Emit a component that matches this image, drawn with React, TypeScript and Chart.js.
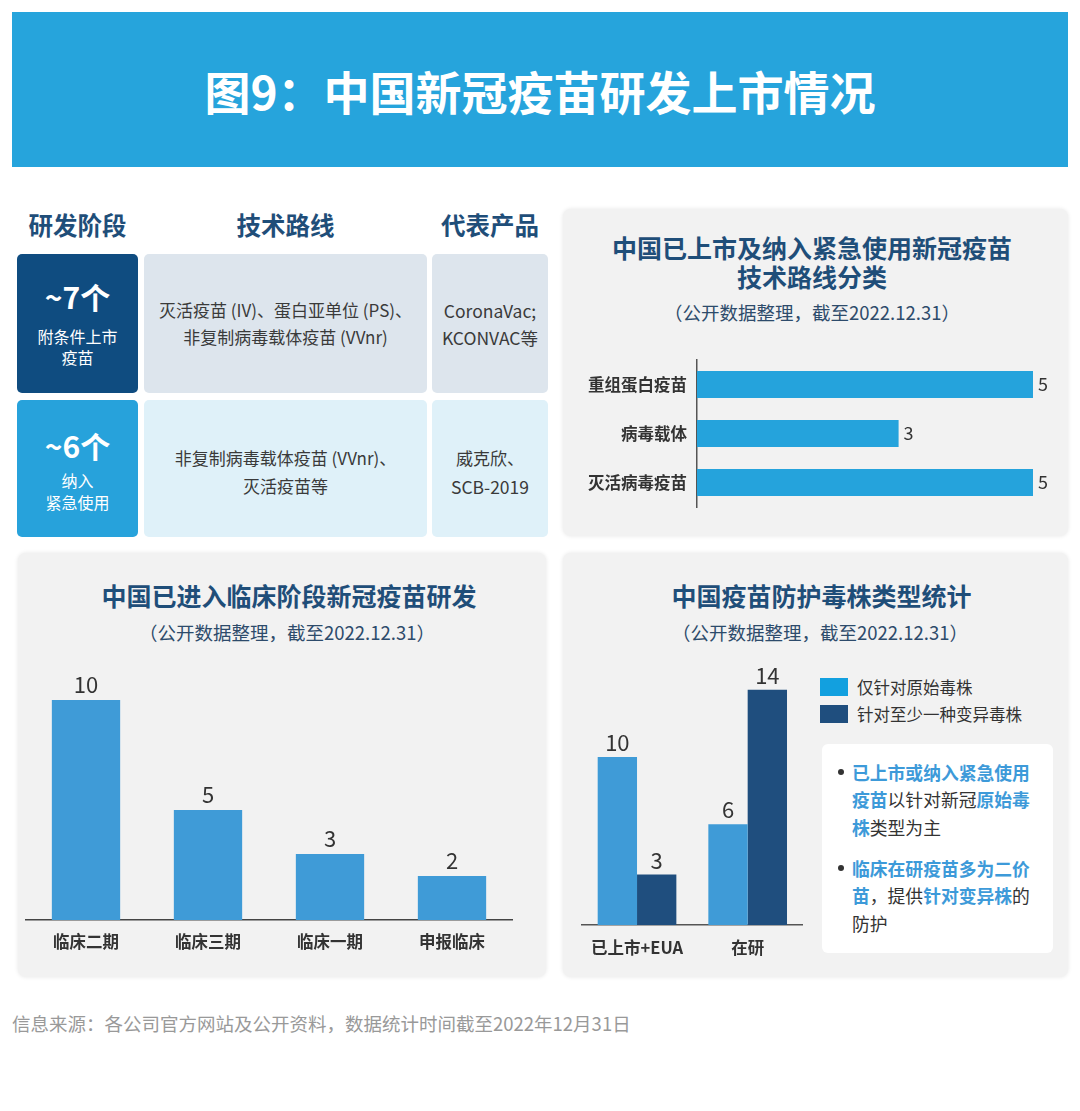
import React, { useEffect, useRef } from "react";
import { Chart, registerables } from "chart.js";

Chart.register(...registerables);

// ---------------- DATA ----------------
const techCategories = ["重组蛋白疫苗", "病毒载体", "灭活病毒疫苗"];
const techValues = [5, 3, 5];

const clinicalCategories = ["临床二期", "临床三期", "临床一期", "申报临床"];
const clinicalValues = [10, 5, 3, 2];

const strainCategories = ["已上市+EUA", "在研"];
const strainSeriesNames = ["仅针对原始毒株", "针对至少一种变异毒株"];
const originalOnlyValues = [10, 6];
const variantValues = [3, 14];

const FONT = "'Noto Sans CJK SC', 'Noto Sans', sans-serif";
const TITLE_BLUE = "#1F4E79";
const SUB_BLUE = "#2D4B6B";

// value label plugin
const valueLabels = {
  id: "valueLabels",
  afterDatasetsDraw(chart: any, _args: any, opts: any) {
    const ctx = chart.ctx;
    ctx.save();
    ctx.font = `${opts.size || 20}px ${FONT}`;
    ctx.fillStyle = opts.color || "#333";
    chart.data.datasets.forEach((ds: any, i: number) => {
      const meta = chart.getDatasetMeta(i);
      meta.data.forEach((el: any, j: number) => {
        const v = ds.data[j];
        if (opts.horizontal) {
          ctx.textAlign = "left";
          ctx.textBaseline = "middle";
          ctx.fillText(String(v), el.x + (opts.offset || 5), el.y);
        } else {
          ctx.textAlign = "center";
          ctx.textBaseline = "alphabetic";
          ctx.fillText(String(v), el.x, el.y - (opts.offset || 6));
        }
      });
    });
    ctx.restore();
  },
};

type TxtProps = {
  x: number;
  cy: number;
  w?: number;
  align?: "left" | "center" | "right";
  size: number;
  weight?: number;
  color?: string;
  lh?: number;
  ls?: number;
  children: React.ReactNode;
};

function Txt({ x, cy, w, align = "left", size, weight = 400, color = "#333", lh, ls, children }: TxtProps) {
  const L = lh || Math.round(size * 1.4);
  return (
    <div
      style={{
        position: "absolute",
        left: x,
        top: cy - L / 2,
        width: w,
        textAlign: align,
        fontSize: size,
        fontWeight: weight,
        color,
        lineHeight: `${L}px`,
        whiteSpace: "nowrap",
        letterSpacing: ls,
      }}
    >
      {children}
    </div>
  );
}

function Box({ x, y, w, h, bg, r = 5, shadow }: { x: number; y: number; w: number; h: number; bg: string; r?: number; shadow?: boolean }) {
  return (
    <div
      style={{
        position: "absolute",
        left: x,
        top: y,
        width: w,
        height: h,
        background: bg,
        borderRadius: r,
        boxShadow: shadow ? "0 0 4px rgba(0,0,0,0.10)" : undefined,
      }}
    />
  );
}

export default function App() {
  const c1 = useRef<HTMLCanvasElement>(null);
  const c2 = useRef<HTMLCanvasElement>(null);
  const c3 = useRef<HTMLCanvasElement>(null);

  useEffect(() => {
    Chart.defaults.font.family = FONT;
    const charts: Chart[] = [];

    // Chart 1: horizontal bars
    charts.push(
      new Chart(c1.current!, {
        type: "bar",
        data: {
          labels: techCategories,
          datasets: [
            {
              data: techValues,
              backgroundColor: "#25A3DC",
              barPercentage: 0.55,
              categoryPercentage: 1,
            },
          ],
        },
        options: {
          indexAxis: "y",
          responsive: false,
          animation: false,
          layout: { padding: { top: 5, bottom: 5, left: 0, right: 30 } },
          plugins: {
            legend: { display: false },
            tooltip: { enabled: false },
            valueLabels: { horizontal: true, size: 18, offset: 5, color: "#333" },
          } as any,
          scales: {
            x: { display: false, min: 0, max: 5 },
            y: {
              grid: { display: false, drawTicks: false },
              border: { display: true, color: "#555", width: 1.5 },
              ticks: { font: { size: 16.5, weight: "bold", family: FONT }, color: "#333", padding: 10 },
              afterFit: (s: any) => {
                s.width = 122;
                s.paddingTop = 0;
                s.paddingBottom = 0;
              },
            },
          },
        },
        plugins: [valueLabels as any],
      })
    );

    // Chart 2: clinical stage bars
    charts.push(
      new Chart(c2.current!, {
        type: "bar",
        data: {
          labels: clinicalCategories,
          datasets: [
            {
              data: clinicalValues,
              backgroundColor: "#3F9BD7",
              barPercentage: 0.56,
              categoryPercentage: 1,
            },
          ],
        },
        options: {
          responsive: false,
          animation: false,
          layout: { padding: { top: 60, bottom: 0, left: 0, right: 0 } },
          plugins: {
            legend: { display: false },
            tooltip: { enabled: false },
            valueLabels: { size: 22, offset: 7, color: "#333" },
          } as any,
          scales: {
            y: { display: false, min: 0, max: 10 },
            x: {
              grid: { display: false, drawTicks: false },
              border: { display: true, color: "#444", width: 1.5 },
              ticks: { font: { size: 16.5, weight: "bold", family: FONT }, color: "#333", padding: 12 },
              afterFit: (s: any) => {
                s.height = 40;
              },
            },
          },
        },
        plugins: [valueLabels as any],
      })
    );

    // Chart 3: strain grouped bars
    charts.push(
      new Chart(c3.current!, {
        type: "bar",
        data: {
          labels: strainCategories,
          datasets: [
            {
              label: strainSeriesNames[0],
              data: originalOnlyValues,
              backgroundColor: "#3F9BD7",
              barPercentage: 1,
              categoryPercentage: 0.711,
            },
            {
              label: strainSeriesNames[1],
              data: variantValues,
              backgroundColor: "#1F4E7E",
              barPercentage: 1,
              categoryPercentage: 0.711,
            },
          ],
        },
        options: {
          responsive: false,
          animation: false,
          layout: { padding: { top: 30, bottom: 0, left: 0, right: 0 } },
          plugins: {
            legend: { display: false },
            tooltip: { enabled: false },
            valueLabels: { size: 22, offset: 6, color: "#333" },
          } as any,
          scales: {
            y: { display: false, min: 0, max: 15 },
            x: {
              grid: { display: false, drawTicks: false },
              border: { display: true, color: "#555", width: 1.5 },
              ticks: { font: { size: 16.5, weight: "bold", family: FONT }, color: "#333", padding: 13 },
              afterFit: (s: any) => {
                s.height = 40;
              },
            },
          },
        },
        plugins: [valueLabels as any],
      })
    );

    return () => charts.forEach((c) => c.destroy());
  }, []);

  const hl = { color: "#3D9AD9", fontWeight: 700 } as React.CSSProperties;

  return (
    <div
      style={{
        position: "absolute",
        left: 0,
        top: 0,
        width: 1080,
        height: 1111,
        background: "#FFFFFF",
        fontFamily: FONT,
        overflow: "hidden",
      }}
    >
      {/* Header */}
      <Box x={12} y={12} w={1056} h={155} bg="#26A4DC" r={0} />
      <Txt x={12} cy={90} w={1056} align="center" size={46} weight={700} color="#FFFFFF" ls={0}>
        图9：中国新冠疫苗研发上市情况
      </Txt>

      {/* Top-left table */}
      <Txt x={17} cy={225} w={121} align="center" size={24.5} weight={700} color={TITLE_BLUE}>研发阶段</Txt>
      <Txt x={144} cy={225} w={283} align="center" size={24.5} weight={700} color={TITLE_BLUE}>技术路线</Txt>
      <Txt x={432} cy={225} w={116} align="center" size={24.5} weight={700} color={TITLE_BLUE}>代表产品</Txt>

      <Box x={17} y={254} w={121} h={139} bg="#0F4C80" />
      <Box x={144} y={254} w={283} h={139} bg="#DDE5ED" />
      <Box x={432} y={254} w={116} h={139} bg="#DDE5ED" />
      <Box x={17} y={400} w={121} h={137} bg="#27A2DB" />
      <Box x={144} y={400} w={283} h={137} bg="#DFF1F9" />
      <Box x={432} y={400} w={116} h={137} bg="#DFF1F9" />

      <Txt x={17} cy={296} w={121} align="center" size={30} weight={700} color="#FFFFFF">~7个</Txt>
      <Txt x={17} cy={336} w={121} align="center" size={16} color="#FFFFFF" lh={21}>附条件上市</Txt>
      <Txt x={17} cy={357} w={121} align="center" size={16} color="#FFFFFF" lh={21}>疫苗</Txt>
      <Txt x={144} cy={310} w={283} align="center" size={17} color="#3A3A3A">灭活疫苗 (IV)、蛋白亚单位 (PS)、</Txt>
      <Txt x={144} cy={337} w={283} align="center" size={17} color="#3A3A3A">非复制病毒载体疫苗 (VVnr)</Txt>
      <Txt x={432} cy={310} w={116} align="center" size={17.5} color="#3A3A3A">CoronaVac;</Txt>
      <Txt x={432} cy={337} w={116} align="center" size={17.5} color="#3A3A3A">KCONVAC等</Txt>

      <Txt x={17} cy={445} w={121} align="center" size={30} weight={700} color="#FFFFFF">~6个</Txt>
      <Txt x={17} cy={480} w={121} align="center" size={16} color="#FFFFFF" lh={21}>纳入</Txt>
      <Txt x={17} cy={502} w={121} align="center" size={16} color="#FFFFFF" lh={21}>紧急使用</Txt>
      <Txt x={144} cy={458} w={283} align="center" size={17} color="#3A3A3A">非复制病毒载体疫苗 (VVnr)、</Txt>
      <Txt x={144} cy={486} w={283} align="center" size={17} color="#3A3A3A">灭活疫苗等</Txt>
      <Txt x={432} cy={458} w={116} align="center" size={17} color="#3A3A3A">威克欣、</Txt>
      <Txt x={432} cy={486} w={116} align="center" size={17.5} color="#3A3A3A">SCB-2019</Txt>

      {/* Top-right panel */}
      <Box x={563} y={209} w={505} h={327} bg="#F2F2F2" r={8} shadow />
      <Txt x={563} cy={247} w={498} align="center" size={25} weight={700} color={TITLE_BLUE}>中国已上市及纳入紧急使用新冠疫苗</Txt>
      <Txt x={563} cy={276} w={498} align="center" size={25} weight={700} color={TITLE_BLUE}>技术路线分类</Txt>
      <Txt x={563} cy={312} w={498} align="center" size={18.5} color={SUB_BLUE}>（公开数据整理，截至2022.12.31）</Txt>
      <canvas
        ref={c1}
        width={488}
        height={157}
        style={{ position: "absolute", left: 575, top: 355, width: 488, height: 157 }}
      />

      {/* Bottom-left panel */}
      <Box x={18} y={553} w={528} h={424} bg="#F2F2F2" r={8} shadow />
      <Txt x={18} cy={595} w={542} align="center" size={25} weight={700} color={TITLE_BLUE}>中国已进入临床阶段新冠疫苗研发</Txt>
      <Txt x={18} cy={632} w={538} align="center" size={18.5} color={SUB_BLUE}>（公开数据整理，截至2022.12.31）</Txt>
      <canvas
        ref={c2}
        width={488}
        height={320}
        style={{ position: "absolute", left: 25, top: 640, width: 488, height: 320 }}
      />

      {/* Bottom-right panel */}
      <Box x={563} y={553} w={505} h={424} bg="#F2F2F2" r={8} shadow />
      <Txt x={563} cy={595} w={517} align="center" size={25} weight={700} color={TITLE_BLUE}>中国疫苗防护毒株类型统计</Txt>
      <Txt x={563} cy={632} w={514} align="center" size={18.5} color={SUB_BLUE}>（公开数据整理，截至2022.12.31）</Txt>
      <canvas
        ref={c3}
        width={225}
        height={322}
        style={{ position: "absolute", left: 578, top: 643, width: 225, height: 322 }}
      />

      {/* Legend */}
      <Box x={820} y={678} w={28} h={18} bg="#12A0DF" r={0} />
      <Box x={820} y={705} w={28} h={18} bg="#1F4E7E" r={0} />
      <Txt x={857} cy={687} size={16.5} color="#333">{strainSeriesNames[0]}</Txt>
      <Txt x={857} cy={714} size={16.5} color="#333">{strainSeriesNames[1]}</Txt>

      {/* Notes box */}
      <Box x={822} y={744} w={231} h={209} bg="#FFFFFF" r={6} />
      <div style={{ position: "absolute", left: 838, top: 769, width: 6, height: 6, borderRadius: 3, background: "#333" }} />
      <Txt x={852} cy={772} size={17.8} lh={27} color="#333"><span style={hl}>已上市或纳入紧急使用</span></Txt>
      <Txt x={852} cy={799} size={17.8} lh={27} color="#333"><span style={hl}>疫苗</span>以针对新冠<span style={hl}>原始毒</span></Txt>
      <Txt x={852} cy={827} size={17.8} lh={27} color="#333"><span style={hl}>株</span>类型为主</Txt>
      <div style={{ position: "absolute", left: 838, top: 865, width: 6, height: 6, borderRadius: 3, background: "#333" }} />
      <Txt x={852} cy={868} size={17.8} lh={27} color="#333"><span style={hl}>临床在研疫苗多为二价</span></Txt>
      <Txt x={852} cy={895} size={17.8} lh={27} color="#333"><span style={hl}>苗</span>，提供<span style={hl}>针对变异株</span>的</Txt>
      <Txt x={852} cy={923} size={17.8} lh={27} color="#333">防护</Txt>

      {/* Footer */}
      <Txt x={12} cy={1023} size={18.5} color="#999999">信息来源：各公司官方网站及公开资料，数据统计时间截至2022年12月31日</Txt>
    </div>
  );
}
